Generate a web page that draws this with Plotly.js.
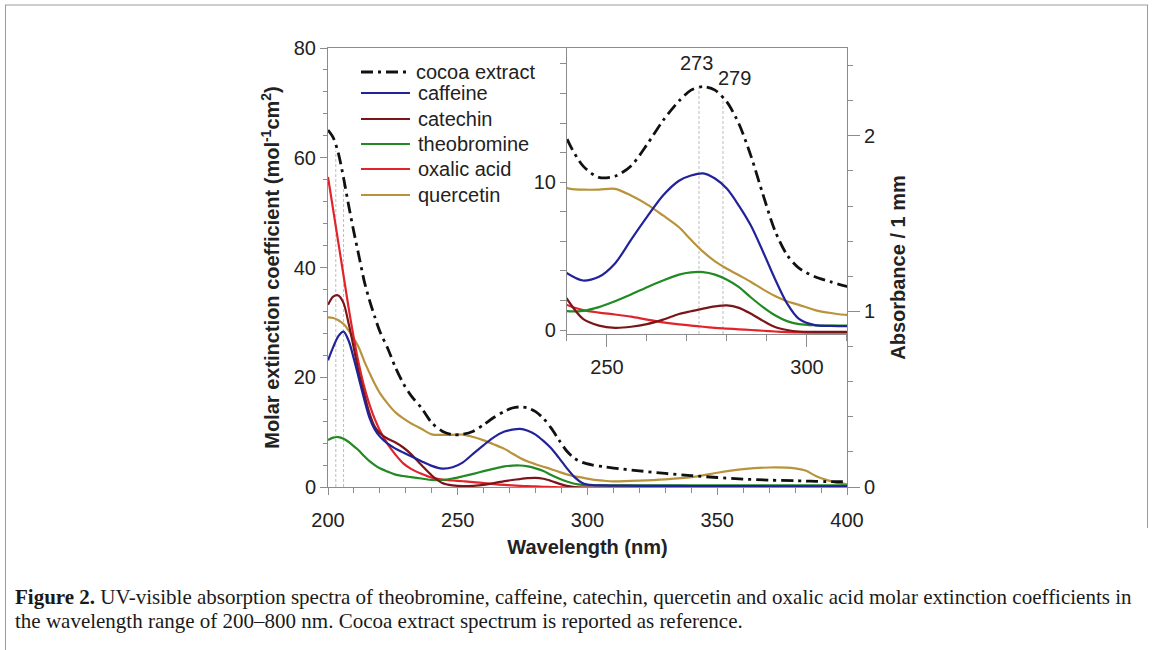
<!DOCTYPE html>
<html><head><meta charset="utf-8">
<script src="https://cdn.plot.ly/plotly-3.0.1.min.js"></script>
<style>html,body{margin:0;padding:0;background:#fff;}#chart{width:1153px;height:650px;}</style>
</head><body><div id="chart"></div>
<script>
// ---------------- data ----------------
const wavelength = [200,202,204,206,208,210,212,214,216,218,220,223,226,229,232,236,240,244,248,252,256,260,264,268,271,274,277,280,283,286,289,292,295,298,302,306,310,320,330,340,350,360,370,380,384,388,392,396,400];

// molar extinction coefficients (left axis)
const caffeine = [23.1,25.5,27.5,28.3,26.6,23.3,19.6,15.9,12.6,10.5,9.2,7.9,7.0,6.3,5.6,4.7,3.85,3.35,3.6,4.5,6.1,7.65,9.1,10.1,10.45,10.6,10.25,9.55,8.4,7.05,5.3,3.45,1.8,0.75,0.33,0.28,0.26,0.22,0.2,0.18,0.16,0.15,0.14,0.13,0.12,0.12,0.11,0.1,0.1];
const catechin = [33.2,34.7,34.9,33.5,29.7,25.2,20.6,16.9,13.4,11.0,9.8,8.8,8.1,7.2,6.0,4.0,2.1,0.75,0.3,0.15,0.22,0.4,0.7,1.08,1.27,1.45,1.6,1.67,1.5,1.1,0.62,0.2,0.0,-0.1,-0.12,-0.12,-0.12,-0.1,-0.1,-0.1,-0.1,-0.1,-0.1,-0.1,-0.1,-0.1,-0.1,-0.1,-0.1];
const theobromine = [8.56,9.0,9.1,8.8,8.2,7.4,6.6,5.6,4.7,4.0,3.4,2.8,2.25,2.0,1.8,1.55,1.28,1.3,1.55,1.95,2.4,2.9,3.35,3.75,3.9,3.92,3.75,3.4,2.9,2.2,1.55,1.0,0.6,0.4,0.32,0.3,0.3,0.3,0.3,0.3,0.3,0.3,0.3,0.3,0.3,0.3,0.3,0.3,0.3];
const oxalicAcid = [56.5,50.5,44.5,38.5,32.5,27.0,22.2,18.2,15.0,12.4,10.3,7.8,5.9,4.3,3.3,2.4,1.7,1.35,1.18,1.05,0.9,0.7,0.52,0.38,0.3,0.22,0.15,0.1,0.05,0.0,-0.05,-0.1,-0.14,-0.16,-0.18,-0.18,-0.18,-0.1,-0.05,0,0,0,0,0,0,0,0,0,0];
const quercetin = [30.9,30.8,30.4,29.7,28.5,27.0,25.3,22.9,20.8,18.8,17.1,15.2,13.6,12.5,11.6,10.6,9.6,9.5,9.5,9.55,9.1,8.5,7.75,6.95,6.1,5.3,4.65,4.15,3.7,3.25,2.75,2.3,1.95,1.7,1.35,1.15,1.02,1.15,1.4,1.8,2.6,3.25,3.55,3.4,3.0,2.0,1.3,0.8,0.5];
// cocoa extract absorbance / 1 mm (right axis)
const cocoaAbsorbance = [2.033,1.99,1.90,1.76,1.60,1.45,1.31,1.17,1.063,0.97,0.885,0.79,0.68,0.59,0.52,0.45,0.365,0.318,0.298,0.300,0.318,0.355,0.397,0.431,0.450,0.456,0.450,0.429,0.391,0.335,0.268,0.205,0.163,0.140,0.125,0.116,0.108,0.092,0.077,0.065,0.054,0.045,0.039,0.036,0.034,0.032,0.031,0.030,0.030];

const seriesNames = ['cocoa extract','caffeine','catechin','theobromine','oxalic acid','quercetin'];
const mainMarkerWl = [203, 206];
const insetPeakWl = [273, 279];
const insetPeakLabels = ['273', '279'];
const captionLines = [
  '<b>Figure 2.</b> UV-visible absorption spectra of theobromine, caffeine, catechin, quercetin and oxalic acid molar extinction coefficients in',
  'the wavelength range of 200\u2013800 nm. Cocoa extract spectrum is reported as reference.'
];

// ---------------- styling ----------------
const FONT = 'Liberation Sans, Arial, sans-serif';
const SERIF = 'Liberation Serif, Times New Roman, serif';
const AX = '#8c8c8c';
const TXT = '#222';
const styles = {
  'cocoa extract': {color:'#111111', width:2.8, dash:'12px,5px,3px,5px'},
  'caffeine':      {color:'#22229a', width:2.2, dash:'solid'},
  'catechin':      {color:'#7a1619', width:2.2, dash:'solid'},
  'theobromine':   {color:'#228a22', width:2.2, dash:'solid'},
  'oxalic acid':   {color:'#e0242b', width:2.2, dash:'solid'},
  'quercetin':     {color:'#b8933c', width:2.2, dash:'solid'}
};
const values = {
  'caffeine':caffeine, 'catechin':catechin, 'theobromine':theobromine,
  'oxalic acid':oxalicAcid, 'quercetin':quercetin
};

// plot box in pixels
const L = 328, R = 847, T = 48, B = 487;
const px2x = p => (p - L) / (R - L);
const py2y = p => (B - p) / (B - T);

const y4range = [0.0253, 0.5233];

function interp(xs, ys, x){
  for(let i=0;i<xs.length-1;i++){
    if(x>=xs[i] && x<=xs[i+1]){
      const t=(x-xs[i])/(xs[i+1]-xs[i]); return ys[i]+t*(ys[i+1]-ys[i]);
    }
  }
  return ys[ys.length-1];
}

const traces = [];
const drawOrder = ['quercetin','oxalic acid','theobromine','catechin','caffeine'];
// main plot
drawOrder.forEach(n => traces.push({
  x: wavelength, y: values[n], name: n, type:'scatter', mode:'lines',
  xaxis:'x', yaxis:'y', line:{color:styles[n].color, width:styles[n].width, shape:'spline', smoothing:0.8},
  hoverinfo:'skip'
}));
traces.push({x:wavelength, y:cocoaAbsorbance, name:'cocoa extract', type:'scatter', mode:'lines',
  xaxis:'x', yaxis:'y2', line:{color:styles['cocoa extract'].color, width:styles['cocoa extract'].width, dash:styles['cocoa extract'].dash, shape:'spline', smoothing:0.8}, hoverinfo:'skip'});
// inset
drawOrder.forEach(n => traces.push({
  x: wavelength, y: values[n], name: n, type:'scatter', mode:'lines', showlegend:false,
  xaxis:'x3', yaxis:'y3', line:{color:styles[n].color, width:styles[n].width, shape:'spline', smoothing:0.8},
  hoverinfo:'skip'
}));
traces.push({x:wavelength, y:cocoaAbsorbance, name:'cocoa extract', type:'scatter', mode:'lines', showlegend:false,
  xaxis:'x3', yaxis:'y4', line:{color:styles['cocoa extract'].color, width:styles['cocoa extract'].width, dash:styles['cocoa extract'].dash, shape:'spline', smoothing:0.8}, hoverinfo:'skip'});

const shapes = [];
const annotations = [];

// dotted marker lines
mainMarkerWl.forEach(w => shapes.push({type:'line', xref:'x', yref:'y2', x0:w, x1:w, y0:0, y1:interp(wavelength,cocoaAbsorbance,w)-0.03,
  line:{color:'#bdbdbd', width:1, dash:'3px,2px'}, layer:'below'}));
insetPeakWl.forEach(w => shapes.push({type:'line', xref:'x3', yref:'y4', x0:w, x1:w, y0:y4range[0], y1:interp(wavelength,cocoaAbsorbance,w)+0.004,
  line:{color:'#bdbdbd', width:1, dash:'3px,2px'}, layer:'below'}));
insetPeakWl.forEach((w,i) => annotations.push({xref:'x3', yref:'paper', x:w, y:py2y(i===0?63:78), text:insetPeakLabels[i],
  showarrow:false, xanchor:'center', yanchor:'middle', xshift:i===0?-2:12, font:{family:FONT, size:20, color:TXT}}));

// legend (manual)
const legendRows = [72, 93, 119, 144, 169, 195];
seriesNames.forEach((n,i) => {
  const yy = py2y(legendRows[i]);
  shapes.push({type:'line', xref:'paper', yref:'paper', x0:px2x(361), x1:px2x(410), y0:yy, y1:yy,
    line:{color:styles[n].color, width:styles[n].width, dash:styles[n].dash}});
  annotations.push({xref:'paper', yref:'paper', x:px2x(i===0?414:416), y:yy, text:n, showarrow:false,
    xanchor:'left', yanchor:'middle', font:{family:FONT, size:20, color:TXT}});
});

// frame around figure
const frameCol = '#9a9a9a';
shapes.push({type:'line', xref:'paper', yref:'paper', x0:px2x(5), x1:px2x(1148), y0:py2y(5), y1:py2y(5), line:{color:frameCol, width:1}});
shapes.push({type:'line', xref:'paper', yref:'paper', x0:px2x(5.5), x1:px2x(5.5), y0:py2y(5), y1:py2y(650), line:{color:frameCol, width:1}});
shapes.push({type:'line', xref:'paper', yref:'paper', x0:px2x(1147.5), x1:px2x(1147.5), y0:py2y(5), y1:py2y(528), line:{color:frameCol, width:1}});

// caption
captionLines.forEach((t,i) => annotations.push({xref:'paper', yref:'paper', x:px2x(13), y:py2y(i===0?597:621), text:t,
  showarrow:false, xanchor:'left', yanchor:'middle', font:{family:SERIF, size:21, color:'#1a1a1a'}}));

const tickCommon = {showgrid:false, zeroline:false, showline:true, linecolor:AX, linewidth:1, tickcolor:AX, ticks:'outside',
  tickfont:{family:FONT, size:20, color:TXT}};

const layout = {
  width:1153, height:650,
  margin:{l:L, r:1153-R, t:T, b:650-B, pad:0},
  paper_bgcolor:'#ffffff', plot_bgcolor:'rgba(0,0,0,0)',
  showlegend:false,
  font:{family:FONT, size:20, color:TXT},
  xaxis:Object.assign({}, tickCommon, {domain:[0,1], anchor:'y', range:[200,400], mirror:true, ticklen:7, tick0:0, dtick:50,
    ticklabelstandoff:8,
    minor:{dtick:10, ticks:'outside', ticklen:5, tickcolor:AX},
    title:{text:'<b>Wavelength (nm)</b>', font:{family:FONT, size:20, color:TXT}, standoff:9}}),
  yaxis:Object.assign({}, tickCommon, {domain:[0,1], anchor:'x', range:[0,80], ticklen:7, tick0:0, dtick:20,
    minor:{dtick:4, ticks:'outside', ticklen:4, tickcolor:AX},
    title:{text:'<b>Molar extinction coefficient (mol<sup>-1</sup>cm<sup>2</sup>)</b>', font:{family:FONT, size:20, color:TXT}, standoff:8}}),
  yaxis2:Object.assign({}, tickCommon, {overlaying:'y', side:'right', anchor:'x', range:[0,2.5], ticklen:12, tick0:0, dtick:1,
    minor:{dtick:0.2, ticks:'outside', ticklen:5, tickcolor:AX},
    title:{text:'<b>Absorbance / 1 mm</b>', font:{family:FONT, size:20, color:TXT}, standoff:16}}),
  xaxis3:Object.assign({}, tickCommon, {domain:[0.4605,1], anchor:'y3', range:[240,310], mirror:true, ticklen:12, tick0:0, dtick:50,
    ticklabelstandoff:3,
    minor:{dtick:10, ticks:'outside', ticklen:6, tickcolor:AX}}),
  yaxis3:Object.assign({}, tickCommon, {domain:[0.3485,1], anchor:'x3', range:[-0.27,19.08], mirror:true, ticklen:6, tick0:0, dtick:10,
    minor:{dtick:2, ticks:'outside', ticklen:6, tickcolor:AX}}),
  yaxis4:{overlaying:'y3', anchor:'x3', range:y4range, visible:false, showgrid:false, zeroline:false},
  shapes:shapes, annotations:annotations
};

Plotly.newPlot('chart', traces, layout, {displayModeBar:false, staticPlot:true});
</script>
</body></html>
